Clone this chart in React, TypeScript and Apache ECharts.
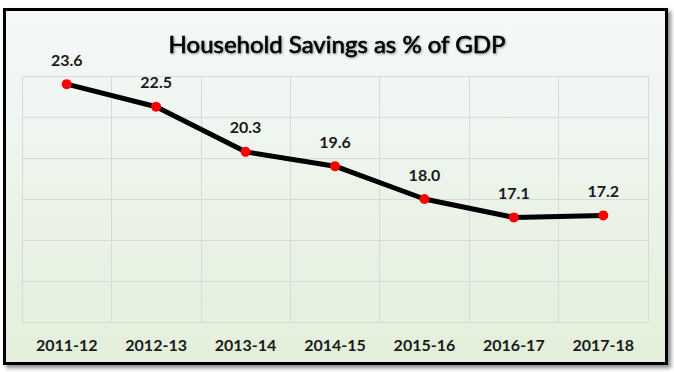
import React, { useEffect, useRef } from "react";
import * as echarts from "echarts";

const categories = ["2011-12", "2012-13", "2013-14", "2014-15", "2015-16", "2016-17", "2017-18"];
const savings = [23.6, 22.5, 20.3, 19.6, 18.0, 17.1, 17.2];
const titleText = "Household Savings as % of GDP";

export default function App() {
  const ref = useRef<HTMLDivElement>(null);
  useEffect(() => {
    if (!ref.current) return;
    const chart = echarts.init(ref.current, null, { renderer: "svg" });
    chart.setOption({
      animation: false,
      backgroundColor: "transparent",
      title: {
        text: titleText,
        left: "center",
        top: 26,
        textStyle: {
          fontFamily: "Lato",
          fontSize: 24,
          fontWeight: "normal",
          color: "#000",
          textBorderColor: "#000",
          textBorderWidth: 0.6,
          textShadowColor: "rgba(0,0,0,0.4)",
          textShadowBlur: 2,
          textShadowOffsetX: 1,
          textShadowOffsetY: 1,
        },
      },
      grid: { left: 22, right: 26, top: 76, bottom: 50 },
      xAxis: {
        type: "category",
        data: categories,
        boundaryGap: true,
        axisLine: { show: false },
        axisTick: { show: false },
        axisLabel: {
          margin: 14,
          fontFamily: "Lato",
          fontSize: 16,
          fontWeight: "bold",
          color: "#1a1a1a",
        },
        splitLine: { show: true, lineStyle: { color: "#d9d9d9", width: 1 } },
      },
      yAxis: {
        type: "value",
        min: 12,
        max: 24,
        interval: 2,
        axisLine: { show: false },
        axisTick: { show: false },
        axisLabel: { show: false },
        splitLine: { show: true, lineStyle: { color: "#d9d9d9", width: 1 } },
      },
      series: [
        {
          type: "line",
          data: savings,
          symbol: "circle",
          symbolSize: 10,
          itemStyle: { color: "#ff0000" },
          lineStyle: { color: "#000", width: 5 },
          label: {
            show: true,
            position: "top",
            distance: 12,
            formatter: (p: any) => p.value.toFixed(1),
            fontFamily: "Lato",
            fontSize: 16,
            fontWeight: "bold",
            color: "#1a1a1a",
          },
          z: 3,
        },
      ],
    });
    return () => chart.dispose();
  }, []);

  return (
    <div style={{ position: "fixed", left: 0, top: 0, width: 674, height: 372, background: "#fff" }}>
      <div
        style={{
          position: "absolute",
          left: 3,
          top: 8,
          width: 659,
          height: 351,
          border: "3px solid #000",
          boxShadow: "3px 3px 4px rgba(0,0,0,0.45)",
          background: "linear-gradient(to bottom, #f5f8fa 0%, #e3efda 100%)",
        }}
      />
      <div ref={ref} style={{ position: "absolute", left: 0, top: 0, width: 674, height: 372 }} />
    </div>
  );
}
